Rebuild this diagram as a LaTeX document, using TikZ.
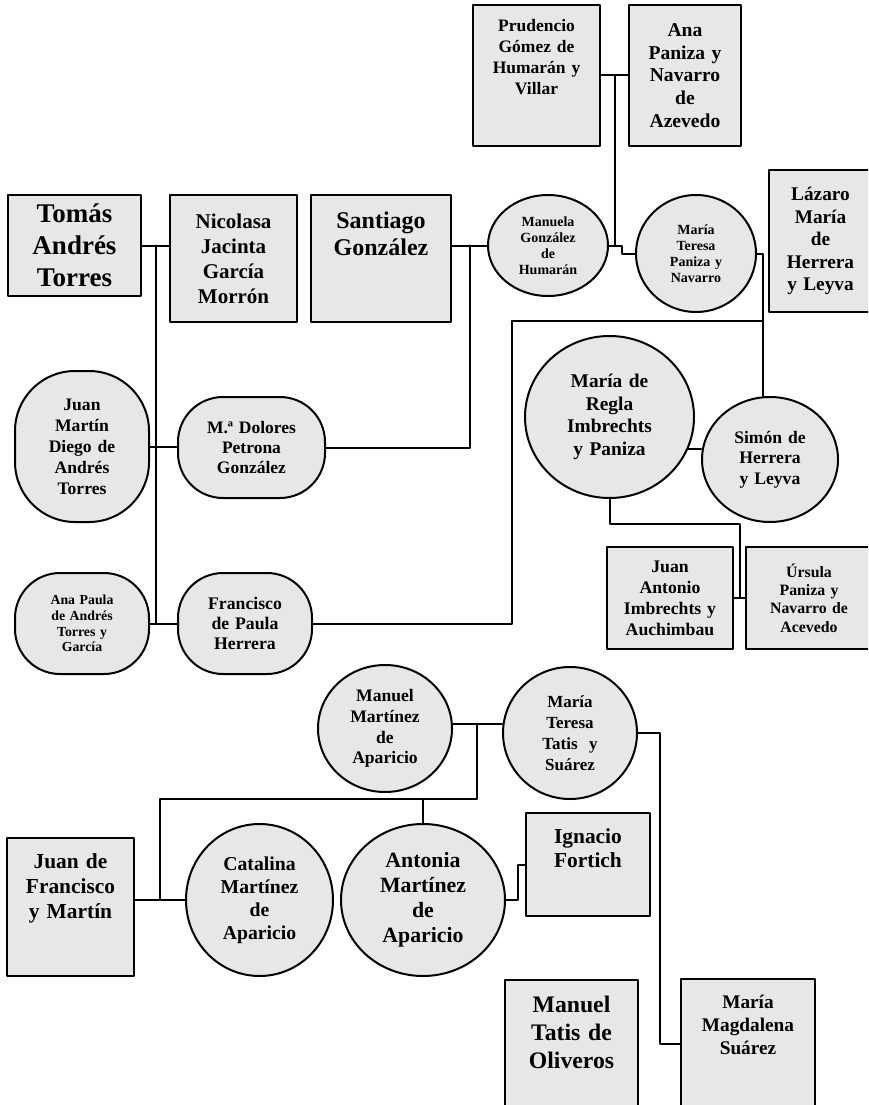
\documentclass[tikz,border=0pt]{standalone}
\usepackage{fontspec}
\setmainfont{Liberation Serif}
\usetikzlibrary{calc, shapes.geometric}
\definecolor{boxgray}{RGB}{230,231,233}

\begin{document}
\begin{tikzpicture}[x=1pt, y=-1pt, line join=round, line cap=round, line width=2pt,
  person/.style={draw, fill=boxgray, inner sep=0pt, align=center},
  pbox/.style={person, rectangle},
  pcirc/.style={person, ellipse},
  pround/.style={person, rectangle, rounded corners=#1},
  fs/.style 2 args={font=\bfseries\fontsize{#1}{#2}\selectfont}]
\useasboundingbox (0,0) rectangle (868,1105);
\clip (0,0) rectangle (868,1105);
\node[pbox, fs={27}{32}, minimum width=133, minimum height=101, text width=125] (tomas) at (74.5,245.5) {Tomás\\Andrés\\Torres};
\node[pbox, fs={21}{25}, minimum width=127, minimum height=127, text width=120] (nicolasa) at (233.5,258.5) {Nicolasa\\Jacinta\\García\\Morrón};
\node[pbox, fs={24}{27}, minimum width=140, minimum height=127, text width=130, text height=33, text depth=94] (santiago) at (381,258.5) {Santiago\\González};
\node[pbox, fs={17.5}{21}, minimum width=127, minimum height=141, text width=120, text height=27, text depth=114] (prudencio) at (536.5,75.5) {Prudencio\\Gómez de\\Humarán y\\Villar};
\node[pbox, fs={19.6}{22.7}, minimum width=112, minimum height=141, text width=105] (ana) at (685,75.5) {Ana\\Paniza y\\Navarro\\de\\Azevedo};
\node[pbox, fs={19.3}{22.5}, minimum width=103, minimum height=142, text width=98] (lazaro) at (820.5,241) {Lázaro\\María\\de\\Herrera\\y Leyva};
\node[pcirc, fs={14}{16}, minimum width=120, minimum height=101, text width=80] (manuela) at (548,245.5) {Manuela\\González\\de\\Humarán};
\node[pcirc, fs={14}{16}, minimum width=120, minimum height=117, text width=80] (mtpaniza) at (696,253.5) {María\\Teresa\\Paniza y\\Navarro};
\node[pround=60pt, fs={17.6}{21}, minimum width=134, minimum height=151, text width=110] (juanmartin) at (82,446.5) {Juan\\Martín\\Diego de\\Andrés\\Torres};
\node[pround=45pt, fs={17.5}{20.3}, minimum width=147, minimum height=101, text width=130] (dolores) at (251.5,447.5) {M.ª Dolores\\Petrona\\González};
\node[pround=45pt, fs={13.8}{15.7}, minimum width=134, minimum height=101, text width=110] (anapaula) at (82,623.5) {Ana Paula\\de Andrés\\Torres y\\García};
\node[pround=45pt, fs={17.7}{20.3}, minimum width=134, minimum height=101, text width=110] (francisco) at (245,623.5) {Francisco\\de Paula\\Herrera};
\node[pcirc, fs={19.4}{22.7}, minimum width=169, minimum height=162, text width=115] (regla) at (609.5,417) {María de\\Regla\\Imbrechts\\y Paniza};
\node[pcirc, fs={17.6}{20.7}, minimum width=136, minimum height=125, text width=90] (simon) at (770,459.5) {Simón de\\Herrera\\y Leyva};
\node[pbox, fs={17.7}{21}, minimum width=126, minimum height=102, text width=120] (juanantonio) at (670,598) {Juan\\Antonio\\Imbrechts y\\Auchimbau};
\node[pbox, fs={15.8}{18.3}, minimum width=126, minimum height=102, text width=118] (ursula) at (809,598) {Úrsula\\Paniza y\\Navarro de\\Acevedo};
\node[pcirc, fs={17.6}{20.8}, minimum width=134, minimum height=127, text width=88] (manuel) at (385,728.5) {Manuel\\Martínez\\de\\Aparicio};
\node[pcirc, fs={17}{20.8}, minimum width=134, minimum height=132, text width=88] (mttatis) at (570,733) {María\\Teresa\\Tatis\ \ y\\Suárez};
\node[pbox, fs={21.4}{25}, minimum width=127, minimum height=138, text width=120, text height=30, text depth=108] (juanfco) at (70.5,907) {Juan de\\Francisco\\y Martín};
\node[pcirc, fs={19.7}{23}, minimum width=147, minimum height=152, text width=100] (catalina) at (259.5,900) {Catalina\\Martínez\\de\\Aparicio};
\node[pcirc, fs={21.8}{25}, minimum width=164, minimum height=152, text width=110] (antonia) at (423,900) {Antonia\\Martínez\\de\\Aparicio};
\node[pbox, fs={21.4}{24.3}, minimum width=124, minimum height=103, text width=115, text height=30, text depth=73] (ignacio) at (588,864.5) {Ignacio\\Fortich};
\node[pbox, fs={23.7}{28}, minimum width=133, minimum height=128, text width=125, text height=32, text depth=96] (manueltatis) at (571.5,1044) {Manuel\\Tatis de\\Oliveros};
\node[pbox, fs={19.3}{23}, minimum width=134, minimum height=129, text width=125, text height=29, text depth=100] (magdalena) at (748,1043.5) {María\\Magdalena\\Suárez};
\coordinate (tn) at ($(tomas.east)!0.5!(tomas.east -| nicolasa.west)$);
\coordinate (sm) at ($(manuela.west -| santiago.east)!0.5!(manuela.west)$);
\coordinate (pa) at ($(prudencio.east)!0.5!(ana.west)$);
\coordinate (ju) at ($(juanantonio.east)!0.5!(ursula.west)$);
\coordinate (mm) at ($(manuel.4)!0.5!(manuel.4 -| mttatis.west)$);
\coordinate (jc) at ($(catalina.west -| juanfco.east)!0.5!(catalina.west)$);
\coordinate (fh) at (512,321);
\draw (tomas.east) -- (tomas.east -| nicolasa.west);
\draw (tn) -- (tn |- anapaula.east);
\draw (juanmartin.east) -- (juanmartin.east -| dolores.west);
\draw (anapaula.east) -- (francisco.west);
\draw (manuela.west -| santiago.east) -- (manuela.west);
\draw (sm) |- (dolores.east);
\draw (prudencio.east) -- (ana.west);
\draw (pa) -- (pa |- manuela.east);
\draw (manuela.east) -- ++(13,0) |- (mtpaniza.west);
\draw (mtpaniza.east) -- ++(6,0) coordinate (mtr) -- (mtr |- simon.north);
\draw (francisco.east) -| (fh) -- (fh -| mtr);
\draw (regla.-22) -- (regla.-22 -| simon.west);
\draw (regla.south) -- ++(0,25) -| (ju);
\draw (juanantonio.east) -- (ursula.west);
\draw (manuel.4) -- (manuel.4 -| mttatis.west);
\draw (mm) -- ++(0,75) coordinate (kids) -| (jc);
\draw (catalina.west -| juanfco.east) -- (catalina.west);
\draw (antonia.north) -- (antonia.north |- kids);
\draw (antonia.east) -- ++(12,0) |- (ignacio.west);
\draw (mttatis.east) -- ++(22,0) |- (magdalena.west);
\end{tikzpicture}
\end{document}
